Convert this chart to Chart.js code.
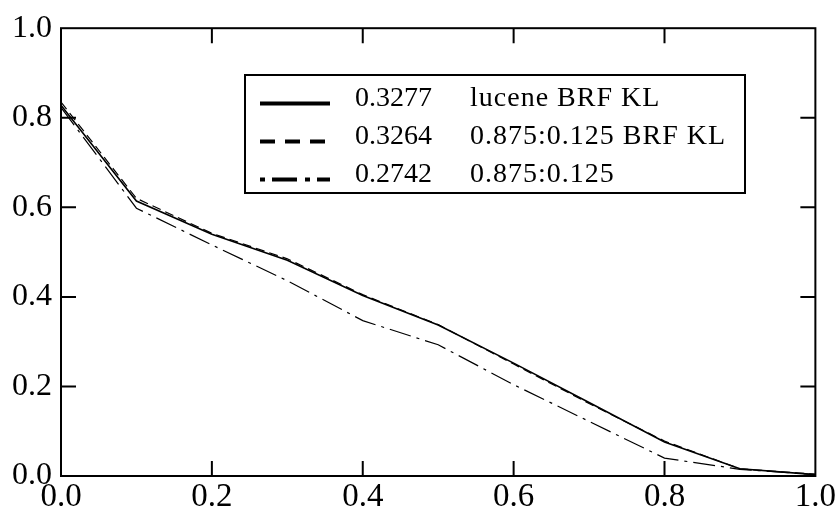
<!DOCTYPE html>
<html>
<head>
<meta charset="utf-8">
<script src="https://cdn.jsdelivr.net/npm/chart.js@4"></script>
<style>
  html, body { margin: 0; padding: 0; background: #fff; }
  canvas { display: block; }
</style>
</head>
<body>
<canvas id="c" width="838" height="512"></canvas>
<script>
const recall = [0.0, 0.1, 0.2, 0.3, 0.4, 0.5, 0.6, 0.7, 0.8, 0.9, 1.0];
const luceneBrfKl = [0.828, 0.614, 0.540, 0.482, 0.403, 0.337, 0.252, 0.164, 0.076, 0.016, 0.003];
const mixBrfKl    = [0.835, 0.620, 0.542, 0.485, 0.405, 0.338, 0.250, 0.162, 0.078, 0.016, 0.004];
const mix         = [0.823, 0.598, 0.516, 0.436, 0.347, 0.293, 0.204, 0.122, 0.040, 0.015, 0.003];
const legendScores = ['0.3277', '0.3264', '0.2742'];
const legendNames  = ['lucene BRF KL', '0.875:0.125 BRF KL', '0.875:0.125'];
const tickValues = [0.0, 0.2, 0.4, 0.6, 0.8, 1.0];

const FONT = '"Liberation Serif", "DejaVu Serif", serif';

function pts(ys) { return recall.map((x, i) => ({ x: x, y: ys[i] })); }

const dashStyles = [[], [9, 5], [22, 6, 3, 6]];
const legendDash = [[], [15, 10], [5, 7, 25, 8]];

const frameAndLegend = {
  id: 'frameAndLegend',
  afterDraw(chart) {
    const { ctx, chartArea: { left, right, top, bottom }, scales: { x, y } } = chart;
    ctx.save();
    ctx.strokeStyle = '#000';
    ctx.lineWidth = 2;
    ctx.setLineDash([]);
    ctx.strokeRect(left, top, right - left, bottom - top);
    const tl = 15;
    ctx.beginPath();
    tickValues.slice(1, -1).forEach(v => {
      const px = x.getPixelForValue(v);
      ctx.moveTo(px, bottom); ctx.lineTo(px, bottom - tl);
      ctx.moveTo(px, top); ctx.lineTo(px, top + tl);
      const py = y.getPixelForValue(v);
      ctx.moveTo(left, py); ctx.lineTo(left + tl, py);
      ctx.moveTo(right, py); ctx.lineTo(right - tl, py);
    });
    ctx.stroke();

    // legend
    const bx = 245, by = 75, bw = 500, bh = 118;
    ctx.fillStyle = '#fff';
    ctx.fillRect(bx, by, bw, bh);
    ctx.lineWidth = 2;
    ctx.strokeRect(bx, by, bw, bh);
    const rows = [103.5, 141.5, 179.5];
    ctx.font = '28px ' + FONT;
    ctx.textBaseline = 'alphabetic';
    ctx.textAlign = 'left';
    chart.data.datasets.forEach((ds, i) => {
      const ry = rows[i];
      ctx.beginPath();
      ctx.lineWidth = 4;
      ctx.setLineDash(legendDash[i]);
      ctx.moveTo(260, ry); ctx.lineTo(330, ry);
      ctx.stroke();
      ctx.setLineDash([]);
      ctx.fillStyle = '#000';
      ctx.letterSpacing = '0px';
      ctx.fillText(legendScores[i], 355, ry + 2);
      ctx.letterSpacing = '1px';
      ctx.fillText(legendNames[i], 470, ry + 2);
    });
    ctx.restore();
  }
};

new Chart(document.getElementById('c'), {
  type: 'line',
  data: {
    datasets: [
      { label: legendNames[0], data: pts(luceneBrfKl), borderColor: '#000', borderWidth: 1.6, borderDash: dashStyles[0], pointRadius: 0, tension: 0, fill: false },
      { label: legendNames[1], data: pts(mixBrfKl), borderColor: '#000', borderWidth: 1.2, borderDash: dashStyles[1], pointRadius: 0, tension: 0, fill: false },
      { label: legendNames[2], data: pts(mix), borderColor: '#000', borderWidth: 1.2, borderDash: dashStyles[2], pointRadius: 0, tension: 0, fill: false }
    ]
  },
  options: {
    responsive: false,
    animation: false,
    devicePixelRatio: 1,
    layout: { padding: { top: 22, right: 21, left: 0, bottom: 0 } },
    plugins: { legend: { display: false }, tooltip: { enabled: false } },
    scales: {
      x: {
        type: 'linear', min: 0, max: 1,
        afterFit(s) { s.height = 36; },
        afterBuildTicks(s) { s.ticks = tickValues.map(v => ({ value: v })); },
        grid: { display: false, drawTicks: false },
        border: { display: false },
        ticks: { padding: 2, color: '#000', font: { family: FONT, size: 33 }, callback: v => Number(v).toFixed(1), maxRotation: 0, autoSkip: false }
      },
      y: {
        type: 'linear', min: 0, max: 1,
        afterFit(s) { s.width = 61; },
        afterBuildTicks(s) { s.ticks = tickValues.map(v => ({ value: v })); },
        grid: { display: false, drawTicks: false },
        border: { display: false },
        ticks: { padding: 9, color: '#000', font: { family: FONT, size: 32 }, callback: v => Number(v).toFixed(1), autoSkip: false }
      }
    }
  },
  plugins: [frameAndLegend]
});
</script>
</body>
</html>
